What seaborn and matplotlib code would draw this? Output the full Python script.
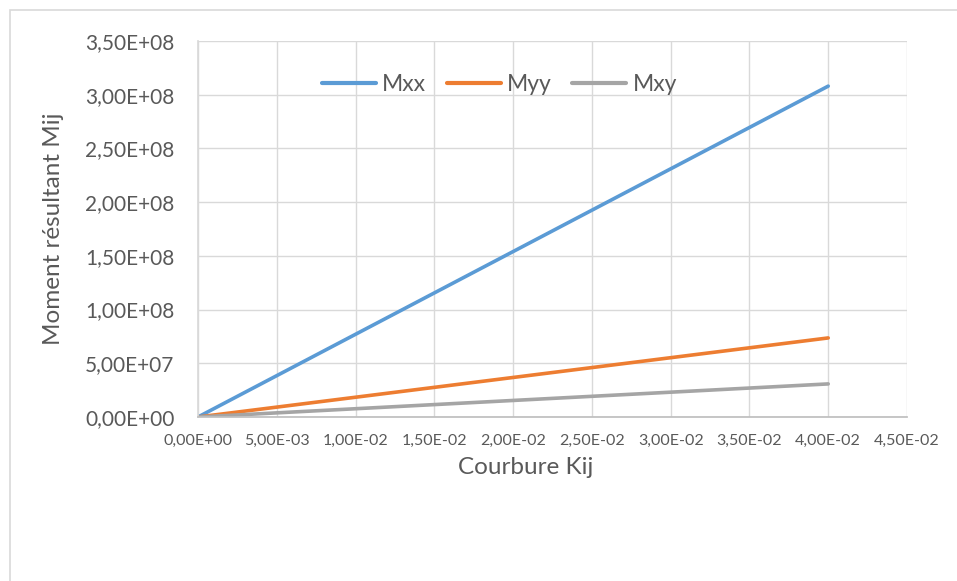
import matplotlib
matplotlib.use("Agg")
import matplotlib.pyplot as plt
import matplotlib.ticker as mticker
from matplotlib.patches import Rectangle
import seaborn as sns
import pandas as pd

# Data
courbure = [0.0, 0.01, 0.02, 0.03, 0.04]
mxx = [0.0, 7.7e7, 1.54e8, 2.31e8, 3.08e8]
myy = [0.0, 1.84e7, 3.68e7, 5.52e7, 7.36e7]
mxy = [0.0, 7.7e6, 1.54e7, 2.31e7, 3.08e7]
series_names = ["Mxx", "Myy", "Mxy"]
colors = ["#5B9BD5", "#ED7D31", "#A5A5A5"]

df = pd.DataFrame({"Courbure": courbure * 3,
                   "M": mxx + myy + mxy,
                   "Serie": [s for s in series_names for _ in courbure]})

sns.set_theme(style="white")
plt.rcParams["font.family"] = ["Lato", "DejaVu Sans"]

fig = plt.figure(figsize=(9.57, 5.81), dpi=100)
ax = fig.add_axes([198 / 957, 1 - 417 / 581, (907 - 198) / 957, (417 - 41) / 581])

sns.lineplot(data=df, x="Courbure", y="M", hue="Serie", palette=colors,
             hue_order=series_names, linewidth=2.6, ax=ax, legend=True,
             solid_capstyle="round")

ax.set_xlim(0, 0.045)
ax.set_ylim(0, 3.5e8)
ax.xaxis.set_major_locator(mticker.MultipleLocator(0.005))
ax.yaxis.set_major_locator(mticker.MultipleLocator(5e7))
fmt = mticker.FuncFormatter(lambda v, p: "{:.2E}".format(v).replace(".", ","))
ax.xaxis.set_major_formatter(fmt)
ax.yaxis.set_major_formatter(fmt)

ax.grid(True, color="#D9D9D9", linewidth=1.0)
for side in ["top", "right"]:
    ax.spines[side].set_visible(False)
ax.spines["left"].set_color("#D9D9D9")
ax.spines["bottom"].set_color("#BFBFBF")
ax.tick_params(axis="x", labelsize=11.5, colors="#595959", length=0, pad=12)
ax.tick_params(axis="y", labelsize=15, colors="#595959", length=0, pad=17)

ax.set_xlabel("Courbure Kij", fontsize=17.5, color="#595959", labelpad=7,
              x=0.4626)
ax.set_ylabel("Moment résultant Mij", fontsize=17.5, color="#595959", labelpad=15)

leg = ax.legend(title=None, loc="center", bbox_to_anchor=(0.522, 0.854),
                bbox_transform=fig.transFigure, ncol=3, frameon=False,
                fontsize=16.5, handlelength=2.36, columnspacing=0.9,
                handletextpad=0.26, labelcolor="#595959")
for h in leg.get_lines():
    h.set_linewidth(3)

fig.patches.append(Rectangle((10 / 957, -0.1), 1.2, 1 - 10 / 581 + 0.1,
                             transform=fig.transFigure, fill=False,
                             edgecolor="#D9D9D9", linewidth=1.2))

fig.savefig("out.png", dpi=100)
